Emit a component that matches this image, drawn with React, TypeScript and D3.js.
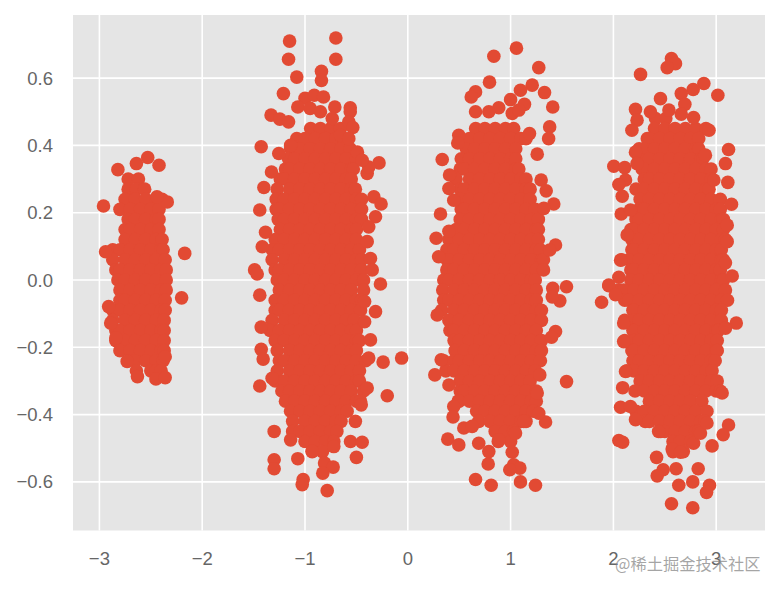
import React from "react";
import * as d3 from "d3";

const xTicks = [-3, -2, -1, 0, 1, 2, 3];
const yTicks = [-0.6, -0.4, -0.2, 0, 0.2, 0.4, 0.6];
const watermark = "@稀土掘金技术社区";

type Row = [number, number[]];
type Pt = [number, number];

const coreA: Row[] = [
  [.30, [-2.72, -2.62]],
  [.27, [-2.72, -2.64, -2.56]],
  [.24, [-2.75, -2.65, -2.55, -2.45, -2.39]],
  [.21, [-2.80, -2.70, -2.60, -2.50, -2.42]],
  [.18, [-2.72, -2.65, -2.55, -2.45, -2.42]],
  [.15, [-2.75, -2.70, -2.60, -2.50, -2.42]],
  [.12, [-2.75, -2.65, -2.55, -2.45, -2.39]],
  [.09, [-2.87, -2.80, -2.70, -2.60, -2.50, -2.40, -2.38]],
  [.06, [-2.87, -2.75, -2.65, -2.55, -2.45, -2.36]],
  [.03, [-2.84, -2.80, -2.70, -2.60, -2.50, -2.40, -2.35]],
  [0, [-2.82, -2.75, -2.65, -2.55, -2.45, -2.35]],
  [-.03, [-2.80, -2.70, -2.60, -2.50, -2.40, -2.35]],
  [-.06, [-2.80, -2.75, -2.65, -2.55, -2.45, -2.36]],
  [-.09, [-2.87, -2.80, -2.70, -2.60, -2.50, -2.40, -2.36]],
  [-.12, [-2.87, -2.75, -2.65, -2.55, -2.45, -2.37]],
  [-.15, [-2.84, -2.80, -2.70, -2.60, -2.50, -2.40, -2.37]],
  [-.18, [-2.84, -2.75, -2.65, -2.55, -2.45, -2.37]],
  [-.21, [-2.80, -2.70, -2.60, -2.50, -2.40, -2.37]],
  [-.24, [-2.72, -2.65, -2.55, -2.45, -2.38]],
  [-.27, [-2.64, -2.50, -2.45, -2.40]],
];
const edgeA: Pt[] = [
  [-2.53, .364], [-2.64, .346], [-2.42, .341], [-2.82, .328], [-2.96, .22], [-2.17, .079], [-2.20, -.053],
  [-2.63, -.287], [-2.45, -.294], [-2.36, -.29], [-2.94, .084], [-2.91, -.079], [-2.34, .232], [-2.44, .247],
  [-2.84, -.172], [-2.89, -.128], [-2.73, -.242], [-2.36, -.228],
];

const coreB: Row[] = [
  [.45, [-.945, -.85, -.75, -.655]],
  [.42, [-1.08, -1, -.9, -.8, -.7, -.625]],
  [.39, [-1.14, -1.05, -.95, -.85, -.75, -.65, -.56]],
  [.36, [-1.16, -1.1, -1, -.9, -.8, -.7, -.6, -.5]],
  [.33, [-1.19, -1.15, -1.05, -.95, -.85, -.75, -.65, -.55, -.53]],
  [.30, [-1.24, -1.2, -1.1, -1, -.9, -.8, -.7, -.6, -.55]],
  [.27, [-1.27, -1.15, -1.05, -.95, -.85, -.75, -.65, -.55, -.51]],
  [.24, [-1.28, -1.2, -1.1, -1, -.9, -.8, -.7, -.6, -.5, -.45]],
  [.21, [-1.28, -1.25, -1.15, -1.05, -.95, -.85, -.75, -.65, -.55, -.45]],
  [.18, [-1.26, -1.2, -1.1, -1, -.9, -.8, -.7, -.6, -.5, -.45]],
  [.15, [-1.24, -1.15, -1.05, -.95, -.85, -.75, -.65, -.55, -.5]],
  [.12, [-1.29, -1.2, -1.1, -1, -.9, -.8, -.7, -.6, -.5]],
  [.09, [-1.32, -1.25, -1.15, -1.05, -.95, -.85, -.75, -.65, -.55, -.47]],
  [.06, [-1.32, -1.2, -1.1, -1, -.9, -.8, -.7, -.6, -.5, -.45]],
  [.03, [-1.29, -1.25, -1.15, -1.05, -.95, -.85, -.75, -.65, -.55, -.45]],
  [0, [-1.27, -1.2, -1.1, -1, -.9, -.8, -.7, -.6, -.5, -.43]],
  [-.03, [-1.25, -1.15, -1.05, -.95, -.85, -.75, -.65, -.55, -.43]],
  [-.06, [-1.29, -1.2, -1.1, -1, -.9, -.8, -.7, -.6, -.5, -.45]],
  [-.09, [-1.29, -1.25, -1.15, -1.05, -.95, -.85, -.75, -.65, -.55, -.46]],
  [-.12, [-1.32, -1.2, -1.1, -1, -.9, -.8, -.7, -.6, -.52]],
  [-.15, [-1.34, -1.25, -1.15, -1.05, -.95, -.85, -.75, -.65, -.55, -.5]],
  [-.18, [-1.29, -1.2, -1.1, -1, -.9, -.8, -.7, -.6, -.5, -.47]],
  [-.21, [-1.27, -1.15, -1.05, -.95, -.85, -.75, -.65, -.55, -.5]],
  [-.24, [-1.25, -1.2, -1.1, -1, -.9, -.8, -.7, -.6, -.5, -.41]],
  [-.27, [-1.27, -1.15, -1.05, -.95, -.85, -.75, -.65, -.55, -.47]],
  [-.30, [-1.29, -1.2, -1.1, -1, -.9, -.8, -.7, -.6, -.5, -.47]],
  [-.33, [-1.225, -1.15, -1.05, -.95, -.85, -.75, -.65, -.55, -.43]],
  [-.36, [-1.19, -1.1, -1, -.9, -.8, -.7, -.6, -.5, -.46]],
  [-.39, [-1.14, -1.05, -.95, -.85, -.75, -.65, -.59]],
  [-.42, [-1.12, -1, -.9, -.8, -.7, -.65]],
  [-.45, [-1.12, -1.05, -.95, -.85, -.75, -.69]],
  [-.48, [-1, -.9, -.8, -.72]],
  [-.51, [-.93, -.83]],
];
const edgeB: Pt[] = [
  [-1.15, .71], [-.70, .719], [-1.16, .656], [-.70, .656], [-.84, .62], [-.84, .593], [-1.08, .603], [-1.21, .554],
  [-1.00, .54], [-.91, .549], [-.82, .544], [-1.07, .514], [-1.33, .49], [-1.245, .478], [-1.16, .47], [-.71, .514],
  [-.56, .512], [-.56, .50], [-.735, .48], [-.574, .47], [-.535, .453], [-.95, .51], [-.85, .50], [-1.426, .396],
  [-1.255, .376], [-1.14, .40], [-.28, .348], [-.395, .317], [-.38, .336], [-1.326, .321], [-1.40, .275], [-.33, .247],
  [-.26, .226], [-1.44, .208], [-.314, .188], [-.38, .158], [-1.384, .142], [-1.416, .099], [-.395, .114], [-.363, .064],
  [-1.49, .03], [-.655, .43], [-.574, .42], [-.49, .38], [-.444, .356], [-1.465, .018], [-.346, .03], [-.266, -.012],
  [-1.44, -.045], [-.42, -.064], [-.314, -.094], [-.42, -.124], [-1.426, -.14], [-.363, -.178], [-1.426, -.206],
  [-1.407, -.235], [-.24, -.244], [-.06, -.232], [-.38, -.232], [-1.44, -.315], [-1.32, -.292], [-.20, -.344],
  [-.395, -.321], [-.453, -.371], [-.51, -.42], [-1.30, -.45], [-1.14, -.475], [-.557, -.48], [-.444, -.482],
  [-.72, -.495], [-1.30, -.534], [-1.30, -.561], [-1.07, -.531], [-.50, -.527], [-.81, -.544], [-.726, -.556],
  [-.827, -.574], [-1.018, -.593], [-1.027, -.608], [-.784, -.626], [-.93, -.509],
];

const coreC: Row[] = [
  [.45, [.66, .75, .85, .95, 1.03]],
  [.42, [.51, .6, .7, .8, .9, 1, 1.1, 1.15]],
  [.39, [.57, .65, .75, .85, .95, 1.05]],
  [.36, [.52, .6, .7, .8, .9, 1, 1.05]],
  [.33, [.51, .55, .65, .75, .85, .95, 1.05, 1.08]],
  [.30, [.47, .6, .7, .8, .9, 1, 1.1, 1.15]],
  [.27, [.51, .55, .65, .75, .85, .95, 1.05, 1.15, 1.19]],
  [.24, [.51, .6, .7, .8, .9, 1, 1.1, 1.19]],
  [.21, [.52, .55, .65, .75, .85, .95, 1.05, 1.15, 1.24]],
  [.18, [.51, .6, .7, .8, .9, 1, 1.1, 1.2, 1.27]],
  [.15, [.47, .55, .65, .75, .85, .95, 1.05, 1.15, 1.25, 1.27]],
  [.12, [.40, .5, .6, .7, .8, .9, 1, 1.1, 1.2, 1.27]],
  [.09, [.38, .45, .55, .65, .75, .85, .95, 1.05, 1.15, 1.25, 1.29]],
  [.06, [.38, .4, .5, .6, .7, .8, .9, 1, 1.1, 1.2, 1.3, 1.32]],
  [.03, [.38, .45, .55, .65, .75, .85, .95, 1.05, 1.15, 1.25, 1.32]],
  [0, [.35, .4, .5, .6, .7, .8, .9, 1, 1.1, 1.2, 1.24]],
  [-.03, [.34, .45, .55, .65, .75, .85, .95, 1.05, 1.15, 1.25]],
  [-.06, [.35, .4, .5, .6, .7, .8, .9, 1, 1.1, 1.2, 1.25]],
  [-.09, [.33, .45, .55, .65, .75, .85, .95, 1.05, 1.15, 1.25, 1.30]],
  [-.12, [.40, .5, .6, .7, .8, .9, 1, 1.1, 1.2, 1.30]],
  [-.15, [.41, .45, .55, .65, .75, .85, .95, 1.05, 1.15, 1.25]],
  [-.18, [.45, .5, .6, .7, .8, .9, 1, 1.1, 1.2, 1.30]],
  [-.21, [.46, .55, .65, .75, .85, .95, 1.05, 1.15, 1.25, 1.30]],
  [-.24, [.35, .45, .5, .6, .7, .8, .9, 1, 1.1, 1.2, 1.29]],
  [-.27, [.37, .45, .55, .65, .75, .85, .95, 1.05, 1.15, 1.24]],
  [-.30, [.51, .6, .7, .8, .9, 1, 1.1, 1.19]],
  [-.33, [.51, .55, .65, .75, .85, .95, 1.05, 1.15, 1.25]],
  [-.36, [.49, .5, .6, .7, .8, .9, 1, 1.1, 1.2, 1.25]],
  [-.39, [.67, .75, .85, .95, 1.05, 1.15, 1.22]],
  [-.42, [.69, .8, .9, 1, 1.1, 1.15]],
  [-.45, [.85, .95, 1.03]],
  [-.48, [.88, 1]],
];
const edgeC: Pt[] = [
  [1.057, .689], [.837, .665], [1.274, .631], [.795, .588], [1.21, .579], [1.33, .557], [1.096, .564], [.659, .559],
  [.617, .544], [1.0, .536], [1.41, .514], [1.135, .522], [.885, .512], [.788, .50], [.659, .50], [1.016, .495],
  [1.08, .505], [1.38, .455], [1.37, .42], [1.184, .435], [1.259, .374], [.335, .358], [.496, .43], [.486, .407],
  [.406, .312], [.40, .272], [1.297, .297], [1.346, .265], [1.42, .226], [1.323, .213], [.318, .196], [.40, .145],
  [.276, .124], [1.437, .104], [1.38, .089], [.30, .069], [.447, .237], [1.544, -.02], [1.41, -.025], [1.479, -.062],
  [1.405, -.05], [.286, -.104], [1.437, -.153], [1.398, -.17], [.325, -.237], [.263, -.282], [.40, -.312], [1.284, -.282],
  [1.544, -.302], [1.259, -.336], [.447, -.376], [.44, -.407], [1.34, -.422], [1.274, -.396], [.545, -.44], [.626, -.435],
  [.389, -.473], [.496, -.49], [.69, -.485], [.788, -.51], [1.048, -.455], [1.016, -.512], [1.03, -.549], [1.09, -.559],
  [.992, -.564], [.782, -.547], [.659, -.593], [.811, -.61], [1.096, -.60], [1.242, -.61], [.885, -.475], [1.128, -.42],
];

const coreD: Row[] = [
  [.48, [2.41, 2.51]],
  [.45, [2.40, 2.5, 2.6, 2.7, 2.8, 2.90]],
  [.42, [2.33, 2.35, 2.45, 2.55, 2.65, 2.75, 2.83]],
  [.39, [2.25, 2.3, 2.4, 2.5, 2.6, 2.7, 2.8, 2.83]],
  [.36, [2.25, 2.35, 2.45, 2.55, 2.65, 2.75, 2.85, 2.87]],
  [.33, [2.28, 2.3, 2.4, 2.5, 2.6, 2.7, 2.8, 2.9, 2.95]],
  [.30, [2.30, 2.35, 2.45, 2.55, 2.65, 2.75, 2.85, 2.95]],
  [.27, [2.22, 2.3, 2.4, 2.5, 2.6, 2.7, 2.8, 2.9, 2.93]],
  [.24, [2.26, 2.35, 2.45, 2.55, 2.65, 2.75, 2.85, 2.95, 3.04]],
  [.21, [2.25, 2.3, 2.4, 2.5, 2.6, 2.7, 2.8, 2.9, 3, 3.04]],
  [.18, [2.22, 2.25, 2.35, 2.45, 2.55, 2.65, 2.75, 2.85, 2.95, 3.05, 3.07]],
  [.15, [2.17, 2.2, 2.3, 2.4, 2.5, 2.6, 2.7, 2.8, 2.9, 3, 3.07]],
  [.12, [2.18, 2.25, 2.35, 2.45, 2.55, 2.65, 2.75, 2.85, 2.95, 3.05, 3.09]],
  [.09, [2.18, 2.2, 2.3, 2.4, 2.5, 2.6, 2.7, 2.8, 2.9, 3, 3.05]],
  [.06, [2.08, 2.15, 2.25, 2.35, 2.45, 2.55, 2.65, 2.75, 2.85, 2.95, 3.05, 3.07]],
  [.03, [2.17, 2.2, 2.3, 2.4, 2.5, 2.6, 2.7, 2.8, 2.9, 3, 3.04]],
  [0, [2.17, 2.25, 2.35, 2.45, 2.55, 2.65, 2.75, 2.85, 2.95, 3.05, 3.07]],
  [-.03, [2.05, 2.1, 2.2, 2.3, 2.4, 2.5, 2.6, 2.7, 2.8, 2.9, 3, 3.09]],
  [-.06, [2.11, 2.15, 2.25, 2.35, 2.45, 2.55, 2.65, 2.75, 2.85, 2.95, 3.05, 3.11]],
  [-.09, [2.19, 2.2, 2.3, 2.4, 2.5, 2.6, 2.7, 2.8, 2.9, 3, 3.05]],
  [-.12, [2.11, 2.2, 2.25, 2.35, 2.45, 2.55, 2.65, 2.75, 2.85, 2.95, 3.05]],
  [-.15, [2.19, 2.2, 2.3, 2.4, 2.5, 2.6, 2.7, 2.8, 2.9, 3, 3.02]],
  [-.18, [2.11, 2.2, 2.25, 2.35, 2.45, 2.55, 2.65, 2.75, 2.85, 2.95, 3.01]],
  [-.21, [2.18, 2.2, 2.3, 2.4, 2.5, 2.6, 2.7, 2.8, 2.9, 3, 3.01]],
  [-.24, [2.19, 2.25, 2.35, 2.45, 2.55, 2.65, 2.75, 2.85, 2.95, 2.99]],
  [-.27, [2.13, 2.2, 2.3, 2.4, 2.5, 2.6, 2.7, 2.8, 2.9, 2.96]],
  [-.30, [2.26, 2.35, 2.45, 2.55, 2.65, 2.75, 2.85, 2.95, 3.01]],
  [-.33, [2.21, 2.3, 2.4, 2.5, 2.6, 2.7, 2.8, 2.9, 3, 3.04]],
  [-.36, [2.35, 2.45, 2.55, 2.65, 2.75, 2.86]],
  [-.39, [2.22, 2.3, 2.4, 2.5, 2.6, 2.7, 2.8, 2.91]],
  [-.42, [2.31, 2.35, 2.45, 2.55, 2.65, 2.75, 2.85, 2.89]],
  [-.45, [2.46, 2.5, 2.6, 2.7, 2.8, 2.83]],
  [-.48, [2.58, 2.65, 2.75]],
  [-.51, [2.58, 2.68]],
];
const edgeD: Pt[] = [
  [2.565, .658], [2.604, .643], [2.523, .631], [2.264, .611], [2.88, .584], [2.776, .566], [2.66, .554], [3.016, .549],
  [2.695, .522], [2.66, .493], [2.458, .539], [2.215, .507], [2.36, .50], [2.54, .505], [2.78, .483], [2.23, .475],
  [2.18, .445], [2.93, .445], [3.12, .388], [3.09, .346], [2.895, .371], [2.004, .338], [2.11, .334], [2.215, .38],
  [2.23, .346], [2.118, .297], [2.053, .284], [2.086, .249], [3.113, .29], [2.977, .297], [3.149, .225], [2.076, .196],
  [2.166, .208], [3.107, .163], [3.107, .114], [2.134, .134], [2.07, .059], [3.09, .051], [3.156, .012], [2.053, .008],
  [1.955, -.017], [1.955, -.015], [1.885, -.066], [2.02, -.044], [3.195, -.128], [3.09, -.143], [2.10, -.128], [2.10, -.183],
  [2.118, -.272], [2.09, -.32], [3.058, -.336], [2.07, -.378], [2.166, -.376], [2.215, -.415], [3.12, -.431], [3.068, -.46],
  [2.053, -.477], [2.09, -.482], [2.96, -.493], [2.572, -.502], [2.653, -.512], [2.78, -.485], [2.42, -.527], [2.484, -.564],
  [2.426, -.582], [2.61, -.561], [2.825, -.561], [2.636, -.61], [2.772, -.60], [2.935, -.61], [2.906, -.631], [2.565, -.665],
  [2.772, -.677], [2.44, -.45], [2.847, -.455], [2.91, -.425],
];

const L = 73, R = 765, T = 15, B = 530.5;
const x = d3.scaleLinear().domain([(L - 407.8) / 102.8, (R - 407.8) / 102.8]).range([L, R]);
const y = d3.scaleLinear().domain([(280 - B) / 336.5, (280 - T) / 336.5]).range([B, T]);

const fromRows = (rows: Row[]): Pt[] => rows.flatMap(([v, xs]) => xs.map((u) => [u, v] as Pt));
const points: Pt[] = [coreA, coreB, coreC, coreD].flatMap(fromRows).concat(edgeA, edgeB, edgeC, edgeD);
const fmt = (v: number) => (v < 0 ? "\u2212" : "") + Math.abs(v).toFixed(1);
const fmtInt = (v: number) => (v < 0 ? "\u2212" : "") + Math.abs(v);
const font = "'Liberation Sans', Arial, sans-serif";

export default function App() {
  return (
    <svg width={778} height={591} style={{ position: "absolute", left: 0, top: 0 }}>
      <rect width={778} height={591} fill="#fff" />
      <rect x={L} y={T} width={R - L} height={B - T} fill="#E5E5E5" />
      {xTicks.map((t) => (
        <line key={t} x1={x(t)} x2={x(t)} y1={T} y2={B} stroke="#fff" strokeWidth={1.6} />
      ))}
      {yTicks.map((t) => (
        <line key={t} x1={L} x2={R} y1={y(t)} y2={y(t)} stroke="#fff" strokeWidth={1.6} />
      ))}
      {points.map(([a, b], i) => (
        <circle key={i} cx={x(a)} cy={y(b)} r={6.8} fill="#E24A33" />
      ))}
      {xTicks.map((t) => (
        <text key={t} x={x(t)} y={565} textAnchor="middle" fontFamily={font} fontSize={18.5} fill="#666">
          {fmtInt(t)}
        </text>
      ))}
      {yTicks.map((t) => (
        <text key={t} x={53} y={y(t) + 6.5} textAnchor="end" fontFamily={font} fontSize={18.5} fill="#666">
          {fmt(t)}
        </text>
      ))}
      <text x={615} y={570} fontFamily="'Noto Sans CJK SC', sans-serif" fontSize={16.3} fill="#888" fillOpacity={0.75}>
        {watermark}
      </text>
    </svg>
  );
}
